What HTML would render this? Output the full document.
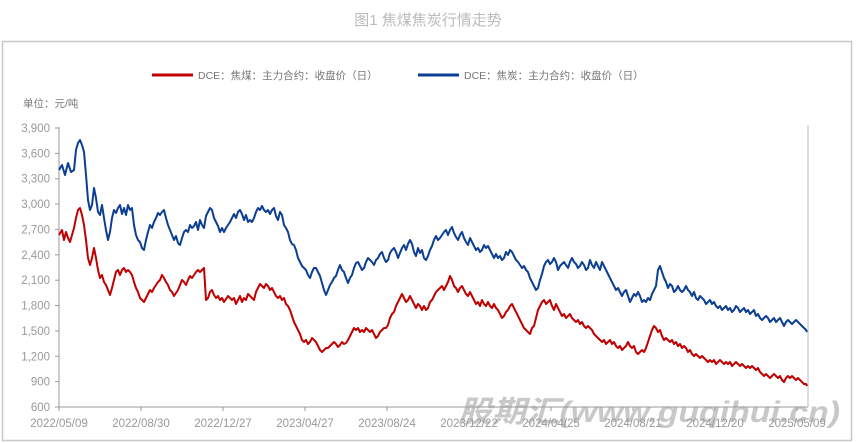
<!DOCTYPE html>
<html><head><meta charset="utf-8"><style>
html,body{margin:0;padding:0;background:#fff;width:857px;height:443px;overflow:hidden}
svg{display:block}
text{font-family:"Liberation Sans","Noto Sans CJK SC",sans-serif}
</style></head><body>
<svg width="857" height="443" viewBox="0 0 857 443">
<text x="428" y="25" text-anchor="middle" font-size="15" fill="#bbbbbb">图1 焦煤焦炭行情走势</text>
<rect x="2.5" y="41.5" width="849" height="399" fill="none" stroke="#c8c8c8" stroke-width="1.5"/>
<line x1="152" y1="75" x2="193" y2="75" stroke="#c00000" stroke-width="3"/>
<text x="198" y="79" font-size="10.5" fill="#777">DCE：焦煤：主力合约：收盘价（日）</text>
<line x1="418" y1="75" x2="459" y2="75" stroke="#0c3f91" stroke-width="3"/>
<text x="464" y="79" font-size="10.5" fill="#777">DCE：焦炭：主力合约：收盘价（日）</text>
<text x="23" y="107" font-size="10.5" fill="#777">单位：元/吨</text>
<g stroke="#999" stroke-width="1">
<line x1="59" y1="127" x2="59" y2="407"/>
<line x1="59" y1="407" x2="808" y2="407"/>
<line x1="808" y1="125" x2="808" y2="407" stroke="#bbb"/>
<line x1="55" y1="128" x2="59" y2="128"/><line x1="55" y1="153.4" x2="59" y2="153.4"/><line x1="55" y1="178.7" x2="59" y2="178.7"/><line x1="55" y1="204.1" x2="59" y2="204.1"/><line x1="55" y1="229.4" x2="59" y2="229.4"/><line x1="55" y1="254.8" x2="59" y2="254.8"/><line x1="55" y1="280.2" x2="59" y2="280.2"/><line x1="55" y1="305.5" x2="59" y2="305.5"/><line x1="55" y1="330.9" x2="59" y2="330.9"/><line x1="55" y1="356.3" x2="59" y2="356.3"/><line x1="55" y1="381.6" x2="59" y2="381.6"/><line x1="55" y1="407" x2="59" y2="407"/>
<line x1="59" y1="407" x2="59" y2="411"/><line x1="141" y1="407" x2="141" y2="411"/><line x1="223" y1="407" x2="223" y2="411"/><line x1="305" y1="407" x2="305" y2="411"/><line x1="387" y1="407" x2="387" y2="411"/><line x1="469" y1="407" x2="469" y2="411"/><line x1="551" y1="407" x2="551" y2="411"/><line x1="633" y1="407" x2="633" y2="411"/><line x1="715" y1="407" x2="715" y2="411"/><line x1="797" y1="407" x2="797" y2="411"/>
</g>
<g font-size="11.5" fill="#999" text-anchor="middle">
<text x="59" y="427">2022/05/09</text><text x="141" y="427">2022/08/30</text><text x="223" y="427">2022/12/27</text><text x="305" y="427">2023/04/27</text><text x="387" y="427">2023/08/24</text><text x="469" y="427">2023/12/22</text><text x="551" y="427">2024/04/25</text><text x="633" y="427">2024/08/21</text><text x="715" y="427">2024/12/20</text><text x="797" y="427">2025/05/09</text>
</g>
<g font-size="11.5" fill="#999" text-anchor="end">
<text x="50" y="132">3,900</text><text x="50" y="157.4">3,600</text><text x="50" y="182.7">3,300</text><text x="50" y="208.1">3,000</text><text x="50" y="233.4">2,700</text><text x="50" y="258.8">2,400</text><text x="50" y="284.2">2,100</text><text x="50" y="309.5">1,800</text><text x="50" y="334.9">1,500</text><text x="50" y="360.3">1,200</text><text x="50" y="385.6">900</text><text x="50" y="411">600</text>
</g>
<polyline fill="none" stroke="#0c3f91" stroke-width="2" stroke-linejoin="round" points="59,170 62,165 65,175 68,163 71,172 74,170 76,150 78,143 80,140 82,145 84,152 86,175 88,200 90,210 92,205 94,188 96,198 98,212 100,215 102,205 104,218 106,230 108,240 110,232 112,218 114,210 116,213 118,208 120,205 122,214 124,208 126,215 128,205 130,210 132,208 134,225 136,235 138,240 140,242 142,248 144,250 146,240 148,232 150,225 152,228 154,222 156,218 158,213 160,215 162,212 164,210 166,218 168,225 170,230 172,235 174,240 176,236 178,243 180,245 182,238 184,232 186,230 188,232 190,225 192,228 194,226 196,222 198,230 200,220 202,225 204,228 206,216 208,212 210,208 212,210 214,218 216,222 218,226 220,232 222,228 224,232 226,228 228,225 230,222 232,218 234,214 236,218 238,212 240,210 242,214 244,220 246,215 248,222 250,220 252,222 254,218 256,212 258,208 260,210 262,206 264,210 266,212 268,210 270,214 272,210 274,208 276,216 278,220 280,212 282,215 284,225 286,228 288,232 290,240 292,244 294,245 296,250 298,258 300,262 302,266 304,268 306,270 308,275 310,278 312,272 314,268 316,268 318,272 320,276 322,283 324,290 326,295 328,290 330,285 332,282 334,278 336,276 338,270 340,265 342,270 344,272 346,278 348,283 350,278 352,275 354,268 356,263 358,262 360,266 362,270 364,268 366,262 368,258 370,260 372,262 374,265 376,260 378,258 380,254 382,252 384,258 386,262 388,260 390,253 392,250 394,248 396,252 398,258 400,253 402,248 404,245 406,250 408,244 410,240 412,244 414,252 416,256 418,248 420,253 422,250 424,258 426,260 428,256 430,250 432,246 434,240 436,236 438,240 440,238 442,235 444,232 446,230 448,235 450,230 452,227 454,233 456,237 458,240 460,235 462,232 464,238 466,242 468,245 470,238 472,242 474,246 476,250 478,248 480,252 482,250 484,245 486,248 488,246 490,250 492,254 494,258 496,254 498,258 500,256 502,260 504,258 506,252 508,255 510,250 512,252 514,256 516,260 518,262 520,265 522,268 524,266 526,270 528,272 530,278 532,282 534,286 536,290 538,288 540,280 542,274 544,266 546,262 548,260 550,264 552,262 554,258 556,262 558,270 560,266 562,264 564,262 566,265 568,268 570,262 572,258 574,262 576,264 578,268 580,266 582,262 584,265 586,270 588,268 590,260 592,265 594,268 596,262 598,266 600,270 602,262 604,266 606,270 608,274 610,278 612,282 614,286 616,290 618,288 620,292 622,296 624,292 626,290 628,296 630,302 632,298 634,294 636,296 638,292 640,296 642,302 644,300 646,302 648,298 650,300 652,294 654,290 656,286 658,270 660,266 662,272 664,278 666,282 668,288 670,284 672,286 674,292 676,290 678,286 680,290 682,292 684,290 686,286 688,290 690,292 692,296 694,292 696,298 698,300 700,296 702,298 704,300 706,304 708,302 710,300 712,304 714,302 716,306 718,308 720,306 722,310 724,308 726,306 728,310 730,308 732,312 734,310 736,306 738,308 740,312 742,310 744,308 746,312 748,310 750,314 752,312 754,310 756,316 758,314 760,318 762,320 764,318 766,316 768,318 770,322 772,320 774,318 776,322 778,320 780,318 782,322 784,326 786,322 788,320 790,322 792,324 794,322 796,320 798,322 800,324 802,326 804,328 806,330 807,332"/>
<polyline fill="none" stroke="#c00000" stroke-width="2" stroke-linejoin="round" points="59,235 62,230 64,240 66,232 68,238 70,242 72,235 74,228 76,218 78,210 80,208 82,215 84,225 86,240 88,258 90,265 92,258 94,248 96,258 98,270 100,278 102,275 104,282 106,285 108,290 110,295 112,288 114,280 116,272 118,270 120,275 122,270 124,268 126,272 128,270 130,272 132,275 134,282 136,288 138,292 140,298 142,300 144,302 146,298 148,294 150,290 152,292 154,288 156,285 158,282 160,280 162,275 164,278 166,282 168,285 170,290 172,292 174,296 176,293 178,290 180,285 182,280 184,282 186,285 188,280 190,276 192,278 194,275 196,272 198,270 200,272 202,270 204,268 206,300 208,298 210,292 212,290 214,295 216,298 218,296 220,300 222,298 224,302 226,299 228,296 230,298 232,300 234,298 236,304 238,300 240,296 242,302 244,298 246,300 248,294 250,296 252,298 254,300 256,292 258,288 260,284 262,286 264,288 266,284 268,286 270,290 272,288 274,292 276,296 278,298 280,296 282,300 284,298 286,304 288,306 290,310 292,316 294,322 296,326 298,330 300,334 302,340 304,342 306,340 308,344 310,342 312,338 314,340 316,342 318,346 320,350 322,352 324,350 326,348 328,348 330,346 332,344 334,342 336,344 338,347 340,345 342,342 344,344 346,343 348,340 350,336 352,332 354,328 356,330 358,328 360,332 362,330 364,332 366,328 368,330 370,332 372,330 374,334 376,338 378,336 380,332 382,330 384,328 386,328 388,325 390,318 392,314 394,312 396,306 398,302 400,298 402,294 404,298 406,302 408,300 410,296 412,300 414,304 416,308 418,304 420,306 422,310 424,306 426,310 428,308 430,302 432,300 434,296 436,292 438,290 440,288 442,286 444,290 446,286 448,282 450,276 452,280 454,286 456,288 458,292 460,288 462,286 464,290 466,294 468,296 470,292 472,296 474,300 476,304 478,302 480,306 482,300 484,304 486,306 488,302 490,306 492,308 494,304 496,308 498,310 500,314 502,318 504,316 506,312 508,310 510,306 512,304 514,308 516,312 518,316 520,320 522,324 524,328 526,330 528,332 530,334 532,328 534,326 536,318 538,310 540,306 542,302 544,300 546,304 548,302 550,300 552,306 554,310 556,304 558,308 560,312 562,316 564,314 566,318 568,316 570,314 572,318 574,320 576,322 578,320 580,324 582,322 584,326 586,328 588,326 590,328 592,330 594,334 596,336 598,338 600,340 602,342 604,340 606,344 608,342 610,340 612,344 614,342 616,346 618,348 620,346 622,350 624,348 626,346 628,342 630,346 632,348 634,346 636,352 638,354 640,352 642,350 644,352 646,348 648,342 650,336 652,330 654,326 656,328 658,332 660,330 662,336 664,340 666,338 668,340 670,342 672,340 674,344 676,342 678,346 680,344 682,348 684,346 686,348 688,352 690,350 692,354 694,356 696,354 698,356 700,358 702,356 704,358 706,360 708,362 710,360 712,362 714,360 716,364 718,362 720,360 722,362 724,364 726,362 728,364 730,362 732,366 734,364 736,362 738,364 740,366 742,364 744,366 746,368 748,366 750,368 752,366 754,368 756,370 758,368 760,372 762,374 764,376 766,374 768,376 770,378 772,376 774,374 776,376 778,378 780,376 782,380 784,382 786,378 788,376 790,378 792,376 794,378 796,380 798,378 800,380 802,382 804,384 806,384 807,386"/>
<text x="458" y="422" font-size="30" font-weight="bold" font-style="italic" fill="#9a9a9a" fill-opacity="0.55" textLength="382" lengthAdjust="spacingAndGlyphs" font-family="'Liberation Sans','Noto Sans CJK SC',sans-serif">股期汇(www.guqihui.cn)</text>
</svg>
</body></html>
